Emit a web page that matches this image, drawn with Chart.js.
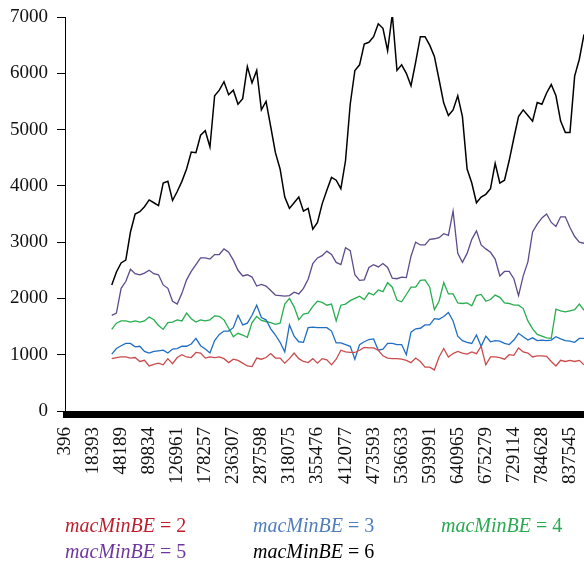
<!DOCTYPE html>
<html>
<head>
<meta charset="utf-8">
<script src="https://cdn.jsdelivr.net/npm/chart.js@4/dist/chart.umd.min.js"></script>
<style>
  html, body { margin: 0; padding: 0; background: #fff; }
  #wrap { width: 584px; height: 567px; }
</style>
</head>
<body>
<div id="wrap"><canvas id="chart" width="584" height="567"></canvas></div>
<script>
// Axis tick labels (one every STEP samples) and y-axis ticks
const tickLabels = ['396', '18393', '48189', '89834', '126961', '178257', '236307', '287598',
  '318075', '355476', '412077', '473593', '536633', '593991', '640965', '675279',
  '729114', '784628', '837545'];
const STEP = 6;
const SAMPLES = 112;     // sample slots along the x axis
const FIRST = 10;        // first slot that carries data
const yTicks = [0, 1000, 2000, 3000, 4000, 5000, 6000, 7000];

// Series values
const be2 = [930, 950, 960, 960, 940, 950, 880, 900, 800, 830, 850, 820, 930, 840, 950, 1000, 960, 950, 1040, 1030,
  940, 960, 950, 960, 930, 860, 920, 900, 850, 800, 790, 940, 920, 950, 1020, 940, 940, 850, 930, 1030,
  930, 880, 860, 930, 850, 930, 910, 820, 920, 1080, 1050, 1040, 1040, 1080, 1130, 1120, 1120, 1080, 980, 940,
  930, 930, 920, 900, 860, 940, 880, 780, 780, 730, 960, 1110, 960, 1020, 1060, 1030, 1010, 1050, 1020, 1150,
  820, 960, 960, 950, 920, 1000, 990, 1120, 1050, 1030, 960, 980, 980, 970, 880, 800, 900, 880, 900, 880,
  900, 820];
const be3 = [1010, 1110, 1160, 1200, 1200, 1140, 1150, 1060, 1030, 1060, 1070, 1080, 1030, 1100, 1110, 1150, 1150, 1190, 1290, 1160,
  1100, 1030, 1250, 1360, 1420, 1420, 1480, 1700, 1530, 1560, 1700, 1880, 1660, 1620, 1460, 1350, 1220, 1050, 1530, 1330,
  1230, 1220, 1480, 1490, 1480, 1480, 1480, 1420, 1210, 1210, 1180, 1150, 920, 1180, 1230, 1270, 1280, 1080, 1100, 1200,
  1200, 1180, 1180, 1000, 1400, 1460, 1470, 1530, 1530, 1640, 1630, 1680, 1750, 1600, 1330, 1250, 1220, 1200, 1350, 1150,
  1330, 1230, 1250, 1240, 1200, 1180, 1260, 1380, 1320, 1260, 1300, 1250, 1260, 1250, 1260, 1320, 1280, 1250, 1240, 1220,
  1290, 1290];
const be4 = [1450, 1560, 1600, 1600, 1580, 1600, 1580, 1600, 1670, 1620, 1520, 1450, 1570, 1580, 1620, 1600, 1740, 1640, 1580, 1620,
  1600, 1620, 1690, 1680, 1620, 1470, 1320, 1380, 1350, 1310, 1570, 1680, 1610, 1590, 1570, 1540, 1560, 1900, 2000, 1850,
  1620, 1720, 1740, 1860, 1950, 1930, 1880, 1900, 1600, 1880, 1900, 1960, 2000, 2040, 1980, 2100, 2060, 2150, 2120, 2280,
  2200, 1970, 1940, 2070, 2200, 2200, 2320, 2330, 2200, 1800, 1950, 2280, 2080, 2080, 1920, 1910, 1920, 1870, 2050, 2070,
  1950, 1980, 2060, 2020, 1920, 1910, 1880, 1880, 1820, 1600, 1460, 1360, 1330, 1300, 1290, 1810, 1780, 1760, 1780, 1800,
  1900, 1790];
const be5 = [1700, 1740, 2180, 2300, 2520, 2440, 2420, 2450, 2500, 2440, 2420, 2240, 2180, 1950, 1900, 2090, 2330, 2480, 2600, 2720,
  2720, 2700, 2780, 2780, 2880, 2820, 2680, 2500, 2400, 2420, 2380, 2220, 2250, 2220, 2140, 2060, 2050, 2040, 2050, 2110,
  2080, 2180, 2340, 2620, 2720, 2760, 2840, 2780, 2640, 2600, 2900, 2850, 2420, 2320, 2330, 2550, 2600, 2560, 2620, 2550,
  2360, 2350, 2380, 2370, 2750, 3000, 2950, 2950, 3050, 3060, 3080, 3150, 3120, 3550, 2800, 2640, 2800, 3050, 3200, 2950,
  2880, 2820, 2700, 2400, 2480, 2480, 2350, 2050, 2400, 2650, 3180, 3320, 3430, 3500, 3350, 3280, 3450, 3450, 3260, 3100,
  3000, 2980];
const be6 = [2240, 2470, 2630, 2680, 3180, 3500, 3540, 3630, 3750, 3700, 3650, 4050, 4080, 3740, 3900, 4080, 4300, 4600, 4590, 4900,
  4980, 4690, 5600, 5700, 5850, 5620, 5700, 5450, 5550, 6120, 5830, 6050, 5350, 5500, 5050, 4590, 4300, 3800, 3600, 3700,
  3800, 3550, 3600, 3230, 3350, 3680, 3920, 4150, 4100, 3950, 4450, 5450, 6050, 6150, 6520, 6550, 6650, 6880, 6800, 6400,
  7050, 6050, 6150, 6000, 5780, 6200, 6650, 6650, 6500, 6300, 5890, 5470, 5250, 5350, 5600, 5230, 4300, 4050, 3700, 3800,
  3850, 3950, 4400, 4050, 4100, 4450, 4850, 5230, 5350, 5250, 5150, 5480, 5450, 5650, 5800, 5600, 5150, 4950, 4950, 5950,
  6250, 6690];

const seriesNames = ['2', '3', '4', '5', '6'];
const lineColors = ['#c94b4b', '#1f6ec4', '#27ae4f', '#5e4b8b', '#000000'];
const legendColors = ['#be1e2d', '#4f7dbe', '#28aa50', '#6e37a0', '#000000'];
const seriesValues = [be2, be3, be4, be5, be6];

const categories = Array.from({ length: SAMPLES }, (_, i) => (i % STEP === 0 ? tickLabels[i / STEP] : ''));
const lead = new Array(FIRST).fill(null);

const datasets = seriesValues.map((vals, k) => ({
  label: 'macMinBE = ' + seriesNames[k],
  data: lead.concat(vals),
  borderColor: lineColors[k],
  borderWidth: k === 4 ? 1.5 : 1.3,
  pointRadius: 0,
  tension: 0,
  fill: false,
  spanGaps: false
}));

const FONT = 'Liberation Serif';

// Legend drawn as two rows of three columns: italic name, upright "= n"
const legendRows = [[0, 1, 2], [3, 4]];
const legendPlugin = {
  id: 'mathLegend',
  afterDraw(chart) {
    const ctx = chart.ctx;
    const colX = [65, 253, 441];
    const rowY = [527, 553];
    ctx.save();
    ctx.textBaseline = 'middle';
    ctx.textAlign = 'left';
    legendRows.forEach((row, r) => {
      row.forEach((k, c) => {
        let x = colX[c];
        const y = rowY[r];
        ctx.fillStyle = legendColors[k];
        ctx.font = 'italic 20px "' + FONT + '"';
        ctx.fillText('macMinBE', x, y);
        x += ctx.measureText('macMinBE').width;
        ctx.font = '20px "' + FONT + '"';
        ctx.fillText(' = ' + seriesNames[k], x, y);
      });
    });
    ctx.restore();
  }
};

new Chart(document.getElementById('chart'), {
  type: 'line',
  data: { labels: categories, datasets },
  options: {
    responsive: false,
    animation: false,
    layout: { padding: { top: 17, right: 0, bottom: 0, left: 0 } },
    plugins: {
      legend: { display: false },
      tooltip: { enabled: false }
    },
    scales: {
      x: {
        type: 'category',
        offset: false,
        afterFit(scale) {
          scale.height = 156;
          scale.paddingLeft = 0;
          scale.paddingRight = 0;
        },
        border: { display: true, color: '#000', width: 1 },
        grid: {
          drawOnChartArea: false,
          drawTicks: true,
          tickLength: 7,
          color: '#000',
          lineWidth: 5
        },
        ticks: {
          autoSkip: false,
          minRotation: 90,
          maxRotation: 90,
          padding: 9,
          color: '#111',
          font: { family: FONT, size: 19 },
          callback(value, index) { return categories[index]; }
        }
      },
      y: {
        min: 0,
        max: 7000,
        afterFit(scale) {
          scale.width = 65;
          scale.paddingTop = 0;
          scale.paddingBottom = 0;
        },
        afterBuildTicks(scale) { scale.ticks = yTicks.map(v => ({ value: v })); },
        border: { display: true, color: '#000', width: 1 },
        grid: {
          drawOnChartArea: false,
          drawTicks: true,
          tickLength: 8,
          color: '#000',
          lineWidth: 1
        },
        ticks: {
          padding: 9,
          color: '#111',
          font: { family: FONT, size: 19 },
          callback(value) { return String(value); }
        }
      }
    }
  },
  plugins: [legendPlugin]
});
</script>
</body>
</html>
